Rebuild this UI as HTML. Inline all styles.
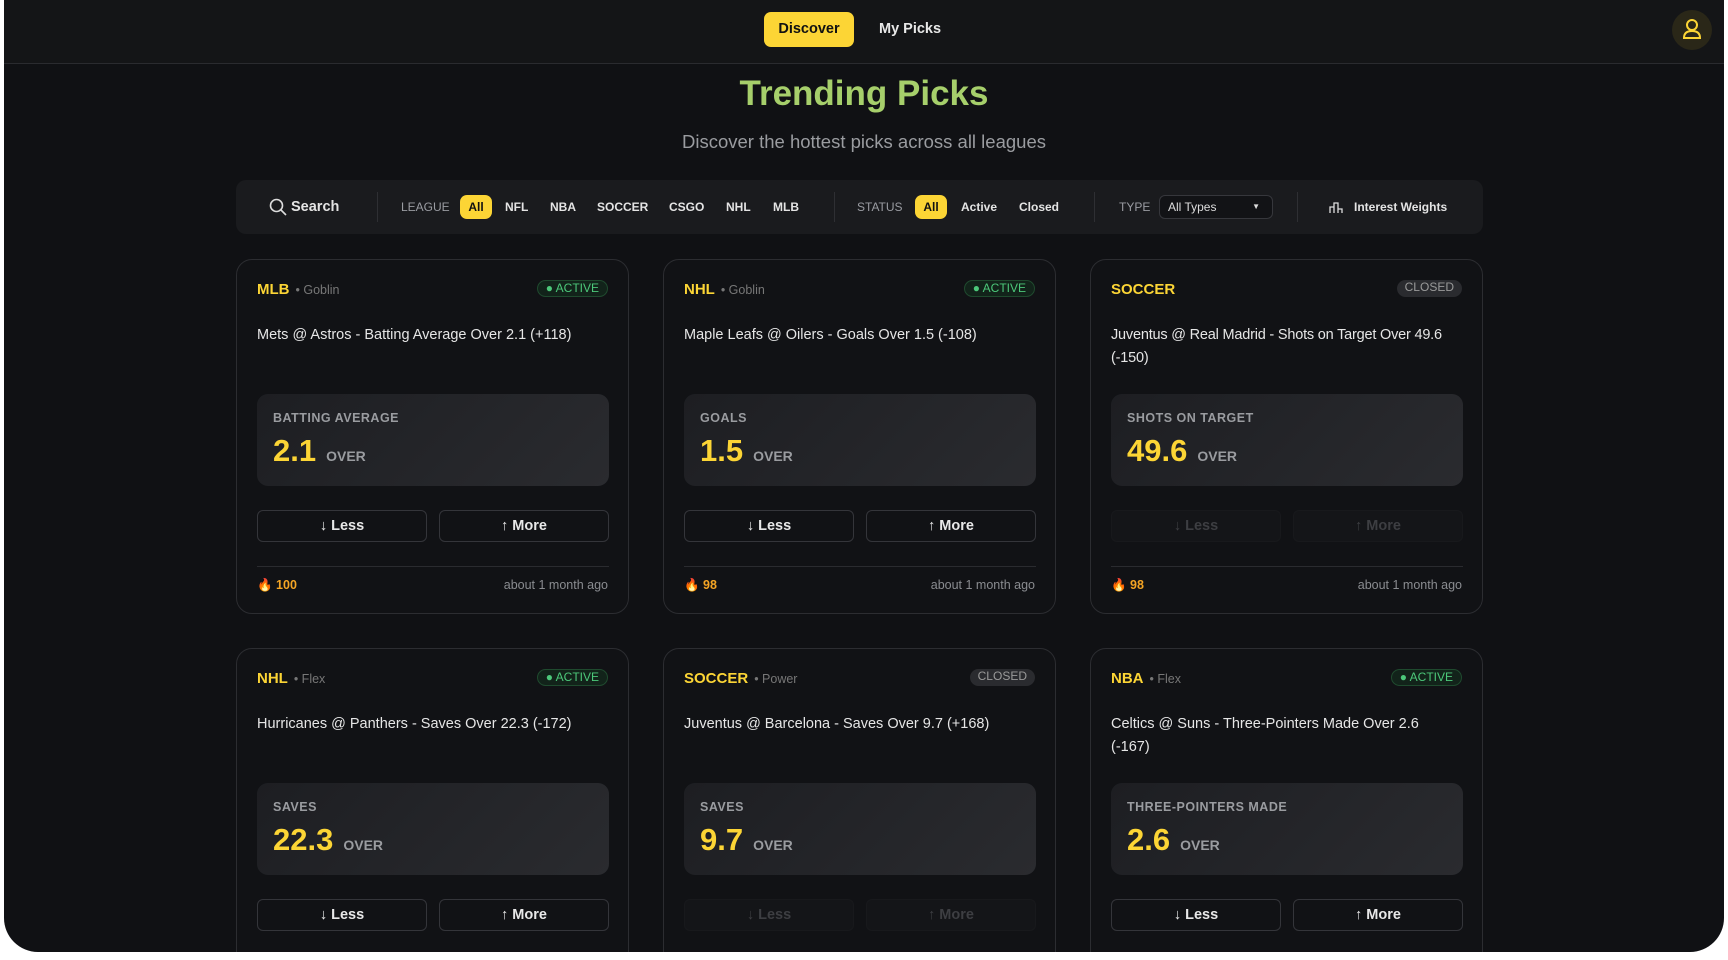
<!DOCTYPE html>
<html><head><meta charset="utf-8"><style>
*{box-sizing:border-box;margin:0;padding:0}
body{width:1728px;height:960px;background:#fff;font-family:"Liberation Sans",sans-serif;overflow:hidden;position:relative}
.frame{position:absolute;left:4px;top:0;width:1720px;height:952px;background:#101114;border-radius:0 0 34px 34px;overflow:hidden}
.hdr{position:absolute;left:0;top:0;width:100%;height:64px;background:#141517;border-bottom:1px solid #2a2b2f}
.abs{position:absolute}
.disc{left:760px;top:12px;width:90px;height:35px;background:#fcd535;border-radius:7px;color:#111;font-weight:bold;font-size:14.5px;text-align:center;line-height:35px}
.mp{left:875px;top:12px;line-height:35px;color:#e8e8e8;font-size:14.5px;font-weight:bold}
.av{left:1668px;top:10px;width:40px;height:40px;border-radius:50%;background:#2a2718}
h1{position:absolute;left:0;width:1720px;top:74px;text-align:center;color:#a6cf6b;font-size:35px;font-weight:bold}
.sub{position:absolute;left:0;width:1720px;top:131px;text-align:center;color:#9a9ca0;font-size:18.5px}
.bar{left:232px;top:180px;width:1247px;height:54px;background:#1a1b1e;border-radius:10px}
.fi{position:absolute;top:0;line-height:54px;font-size:12px;font-weight:bold;color:#e4e4e4}
.lab{color:#9a9ca2;font-weight:normal}
.pill{position:absolute;top:15px;height:24px;line-height:24px;border-radius:7px;background:#fcd535;color:#111;font-size:12px;font-weight:bold;text-align:center}
.dv{position:absolute;top:12px;width:1px;height:30px;background:#2e2f33}
.card{position:absolute;width:393px;height:355px;border:1px solid #2c2d31;border-radius:16px;background:#111215}
.lg{position:absolute;left:20px;top:21px;font-size:15px;font-weight:bold;color:#fcd535}
.lg span{color:#777;font-weight:normal;font-size:12.5px;margin-left:6px}
.bd{position:absolute;right:20px;top:20px;height:17px;line-height:15px;padding:0 8px;border-radius:9px;font-size:12px}
.act{border:1px solid #1f4a2e;background:#12231a;color:#4cc87a}
.cl{background:#2a2b2f;color:#9a9a9a}
.tt{position:absolute;left:20px;right:18px;top:64px;font-size:14.5px;color:#e6e6e6;line-height:23px}
.sb{position:absolute;left:20px;top:134px;width:352px;height:92px;border-radius:11px;background:linear-gradient(135deg,#1d1e22,#2a2b2f)}
.sl{position:absolute;left:16px;top:17px;font-size:12.5px;font-weight:bold;color:#9a9ca0;letter-spacing:.5px}
.sv{position:absolute;left:16px;top:39px;font-size:31px;font-weight:bold;color:#fcd535}
.sv span{font-size:14px;color:#9a9ca0;margin-left:10px}
.bt{position:absolute;top:250px;width:170px;height:32px;border:1px solid #34353a;border-radius:6px;text-align:center;line-height:30px;color:#e8e8e8;font-size:14.5px;font-weight:bold}
.dis{border-color:#18191c;background:#141518;color:#3d3e42}
.ln{position:absolute;left:20px;width:352px;top:306px;height:1px;background:#2a2b2f}
.ft{position:absolute;left:20px;top:318px;font-size:12.5px;font-weight:bold;color:#f5a524}
.tm{position:absolute;right:20px;top:318px;font-size:12.5px;color:#8a8c90}
</style></head><body><div class="frame">
<div class="hdr"></div>
<div class="abs disc">Discover</div><div class="abs mp">My Picks</div>
<div class="abs av"><svg width="40" height="40"><circle cx="20" cy="15" r="5" fill="none" stroke="#fcd535" stroke-width="2"/><path d="M12 28 Q12 21 20 21 Q28 21 28 28 Z" fill="none" stroke="#fcd535" stroke-width="2"/></svg></div>
<h1>Trending Picks</h1>
<div class="sub">Discover the hottest picks across all leagues</div>
<div class="abs bar">
<svg class="abs" style="left:33px;top:18px" width="18" height="18"><circle cx="7.5" cy="7.5" r="6" fill="none" stroke="#ddd" stroke-width="1.6"/><line x1="12" y1="12" x2="17" y2="17" stroke="#ddd" stroke-width="1.6"/></svg>
<div class="fi" style="left:55px;font-size:14.5px">Search</div>
<div class="dv" style="left:141px"></div>
<div class="fi lab" style="left:165px">LEAGUE</div>
<div class="pill" style="left:224px;width:32px">All</div>
<div class="fi" style="left:269px">NFL</div><div class="fi" style="left:314px">NBA</div><div class="fi" style="left:361px">SOCCER</div><div class="fi" style="left:433px">CSGO</div><div class="fi" style="left:490px">NHL</div><div class="fi" style="left:537px">MLB</div>
<div class="dv" style="left:598px"></div>
<div class="fi lab" style="left:621px">STATUS</div>
<div class="pill" style="left:679px;width:32px">All</div>
<div class="fi" style="left:725px">Active</div><div class="fi" style="left:783px">Closed</div>
<div class="dv" style="left:858px"></div>
<div class="fi lab" style="left:883px">TYPE</div>
<div class="abs" style="left:923px;top:15px;width:114px;height:24px;border:1px solid #36373c;border-radius:6px;background:#121316;color:#ddd;font-size:12px;line-height:22px;padding-left:8px">All Types<span style="position:absolute;right:12px;font-size:8px">▼</span></div>
<div class="dv" style="left:1061px"></div>
<svg class="abs" style="left:1093px;top:20px" width="14" height="14"><path d="M1 13V7h4v6M5 13V3h4v10M9 13V9h4v4" fill="none" stroke="#ddd" stroke-width="1.3"/></svg>
<div class="fi" style="left:1118px;font-size:12px">Interest Weights</div>
</div>

<div class="card" style="left:232px;top:259px"><div class="lg">MLB<span>• Goblin</span></div><div class="bd act">● ACTIVE</div><div class="tt">Mets @ Astros - Batting Average Over 2.1 (+118)</div><div class="sb"><div class="sl">BATTING AVERAGE</div><div class="sv">2.1<span>OVER</span></div></div><div class="bt" style="left:20px">↓ Less</div><div class="bt" style="left:202px">↑ More</div><div class="ln"></div><div class="ft">🔥 100</div><div class="tm">about 1 month ago</div></div>
<div class="card" style="left:659px;top:259px"><div class="lg">NHL<span>• Goblin</span></div><div class="bd act">● ACTIVE</div><div class="tt">Maple Leafs @ Oilers - Goals Over 1.5 (-108)</div><div class="sb"><div class="sl">GOALS</div><div class="sv">1.5<span>OVER</span></div></div><div class="bt" style="left:20px">↓ Less</div><div class="bt" style="left:202px">↑ More</div><div class="ln"></div><div class="ft">🔥 98</div><div class="tm">about 1 month ago</div></div>
<div class="card" style="left:1086px;top:259px"><div class="lg">SOCCER</div><div class="bd cl">CLOSED</div><div class="tt" style="letter-spacing:-0.2px">Juventus @ Real Madrid - Shots on Target Over 49.6 (-150)</div><div class="sb"><div class="sl">SHOTS ON TARGET</div><div class="sv">49.6<span>OVER</span></div></div><div class="bt dis" style="left:20px">↓ Less</div><div class="bt dis" style="left:202px">↑ More</div><div class="ln"></div><div class="ft">🔥 98</div><div class="tm">about 1 month ago</div></div>

<div class="card" style="left:232px;top:648px"><div class="lg">NHL<span>• Flex</span></div><div class="bd act">● ACTIVE</div><div class="tt">Hurricanes @ Panthers - Saves Over 22.3 (-172)</div><div class="sb"><div class="sl">SAVES</div><div class="sv">22.3<span>OVER</span></div></div><div class="bt" style="left:20px">↓ Less</div><div class="bt" style="left:202px">↑ More</div></div>
<div class="card" style="left:659px;top:648px"><div class="lg">SOCCER<span>• Power</span></div><div class="bd cl">CLOSED</div><div class="tt">Juventus @ Barcelona - Saves Over 9.7 (+168)</div><div class="sb"><div class="sl">SAVES</div><div class="sv">9.7<span>OVER</span></div></div><div class="bt dis" style="left:20px">↓ Less</div><div class="bt dis" style="left:202px">↑ More</div></div>
<div class="card" style="left:1086px;top:648px"><div class="lg">NBA<span>• Flex</span></div><div class="bd act">● ACTIVE</div><div class="tt">Celtics @ Suns - Three-Pointers Made Over 2.6<br>(-167)</div><div class="sb"><div class="sl">THREE-POINTERS MADE</div><div class="sv">2.6<span>OVER</span></div></div><div class="bt" style="left:20px">↓ Less</div><div class="bt" style="left:202px">↑ More</div></div>
</div></body></html>
